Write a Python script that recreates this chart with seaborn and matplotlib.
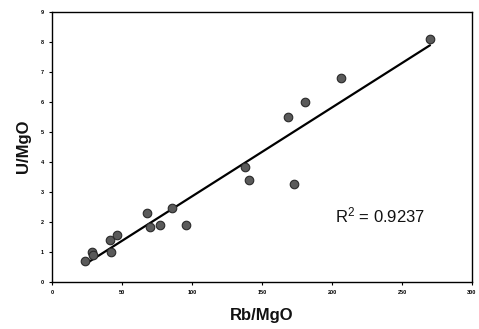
import matplotlib
matplotlib.use("Agg")
import matplotlib.pyplot as plt
import seaborn as sns
import pandas as pd

rb_mgo = [23.6, 28.4, 29.5, 41.7, 41.9, 46.2, 67.9, 70.0, 76.9, 85.7, 95.5,
          137.9, 140.5, 168.8, 172.9, 181.0, 206.4, 270.0]
u_mgo = [0.69, 0.98, 0.89, 1.39, 0.99, 1.57, 2.29, 1.83, 1.90, 2.46, 1.88,
         3.82, 3.39, 5.50, 3.25, 5.97, 6.79, 8.08]
x_ticks = [0, 50, 100, 150, 200, 250, 300]
y_ticks = [0, 1, 2, 3, 4, 5, 6, 7, 8, 9]
r2_text = "R$^2$ = 0.9237"

df = pd.DataFrame({"Rb/MgO": rb_mgo, "U/MgO": u_mgo})

sns.set_style("white")
plt.rcParams["font.family"] = ["Liberation Sans", "DejaVu Sans"]
plt.rcParams["mathtext.fontset"] = "custom"
plt.rcParams["mathtext.rm"] = "Liberation Sans"
plt.rcParams["mathtext.it"] = "Liberation Sans"
plt.rcParams["mathtext.default"] = "rm"

fig = plt.figure(figsize=(4.79, 3.29), dpi=100)
ax = fig.add_axes([52/479, 1-281.7/329, 420/479, (281.7-11.5)/329])

sns.regplot(data=df, x="Rb/MgO", y="U/MgO", ax=ax, ci=None, truncate=True,
            scatter_kws=dict(s=38, color="#5a5a5a", edgecolor="#2a2a2a", linewidths=0.8, alpha=1, zorder=3),
            line_kws=dict(color="black", lw=1.6, zorder=2))

ax.set_xlim(0, 300)
ax.set_ylim(0, 9)
ax.set_xticks(x_ticks)
ax.set_yticks(y_ticks)
ax.tick_params(axis="both", labelsize=4, length=2, width=0.8, direction="out", pad=4,
               bottom=True, left=True, colors="black")
for lab in ax.get_xticklabels() + ax.get_yticklabels():
    lab.set_fontweight("bold")
for sp in ax.spines.values():
    sp.set_visible(True)
    sp.set_color("black")
    sp.set_linewidth(1.0)

ax.set_xlabel("Rb/MgO", fontsize=12, fontweight="bold", labelpad=9, color="#111111")
ax.set_ylabel("U/MgO", fontsize=12, fontweight="bold", labelpad=7, color="#111111")
ax.text(202, 2.2, r2_text, fontsize=12, ha="left", va="center", color="#111111")

fig.savefig("out.png", dpi=100)
